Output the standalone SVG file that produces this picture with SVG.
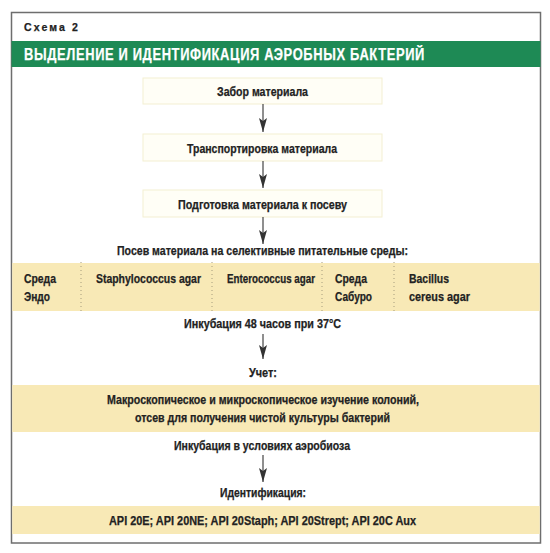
<svg xmlns="http://www.w3.org/2000/svg" width="550" height="553" viewBox="0 0 550 553">
<defs>
<marker id="ah" viewBox="0 0 14 8" refX="14" refY="4" markerWidth="14" markerHeight="8" markerUnits="userSpaceOnUse" orient="auto">
<path d="M0,0 L14,4 L0,8 L3,4 Z" fill="#333"/>
</marker>
</defs>
<style>
.t{font-family:"Liberation Sans",Arial,sans-serif;font-weight:bold;font-size:12.5px;fill:#222;stroke:#222;stroke-width:0.25}
.c{text-anchor:middle}
.box{fill:#fffef6;stroke:#f3efd2;stroke-width:1}
.band{fill:#f8e9b6}
.sep{stroke:#a59c7c;stroke-width:1;stroke-dasharray:1 3}
.conn{stroke:#333;stroke-width:1.1;fill:none;marker-end:url(#ah)}
</style>
<rect x="0" y="0" width="550" height="553" fill="#ffffff"/>
<g id="frame">
<rect x="11.5" y="12.5" width="529" height="530.5" fill="#ffffff" stroke="#6e6e6e" stroke-width="1.5"/>
<text x="24" y="31" class="t" style="font-size:11px;letter-spacing:2.2px" textLength="56" lengthAdjust="spacingAndGlyphs">Схема 2</text>
<rect x="11.5" y="41" width="529" height="26" fill="#1e8a55"/>
<text x="24" y="59.5" class="t" style="font-size:16px;fill:#ffffff;stroke:#ffffff;letter-spacing:0.8px" textLength="401" lengthAdjust="spacingAndGlyphs">ВЫДЕЛЕНИЕ И ИДЕНТИФИКАЦИЯ АЭРОБНЫХ БАКТЕРИЙ</text>
</g>
<g id="n1">
<rect class="box" x="143" y="78" width="239" height="26"/>
<text x="262.5" y="96" class="t c" textLength="91" lengthAdjust="spacingAndGlyphs">Забор материала</text>
</g>
<g id="n2">
<rect class="box" x="143" y="134" width="239" height="27"/>
<text x="262" y="152.5" class="t c" textLength="150" lengthAdjust="spacingAndGlyphs">Транспортировка материала</text>
</g>
<g id="n3">
<rect class="box" x="143" y="190" width="239" height="27"/>
<text x="262.5" y="208.5" class="t c" textLength="169" lengthAdjust="spacingAndGlyphs">Подготовка материала к посеву</text>
</g>
<g id="n4">
<text x="262.5" y="255" class="t c" textLength="291" lengthAdjust="spacingAndGlyphs">Посев материала на селективные питательные среды:</text>
</g>
<g id="n5">
<rect class="band" x="12.25" y="263" width="527.5" height="48"/>
<line class="sep" x1="81" y1="262" x2="81" y2="313"/>
<line class="sep" x1="212" y1="262" x2="212" y2="313"/>
<line class="sep" x1="322" y1="262" x2="322" y2="313"/>
<line class="sep" x1="394" y1="262" x2="394" y2="313"/>
<text x="24" y="283" class="t" textLength="32" lengthAdjust="spacingAndGlyphs">Среда</text>
<text x="24" y="301" class="t" textLength="26" lengthAdjust="spacingAndGlyphs">Эндо</text>
<text x="96" y="283" class="t" textLength="105" lengthAdjust="spacingAndGlyphs">Staphylococcus agar</text>
<text x="227" y="283" class="t" style="font-size:12.2px" textLength="88" lengthAdjust="spacingAndGlyphs">Enterococcus agar</text>
<text x="335" y="283" class="t" textLength="32" lengthAdjust="spacingAndGlyphs">Среда</text>
<text x="335" y="301" class="t" textLength="37" lengthAdjust="spacingAndGlyphs">Сабуро</text>
<text x="409" y="283" class="t" textLength="40" lengthAdjust="spacingAndGlyphs">Bacillus</text>
<text x="409" y="301" class="t" textLength="61" lengthAdjust="spacingAndGlyphs">cereus agar</text>
</g>
<g id="n6">
<text x="262.5" y="328" class="t c" textLength="157" lengthAdjust="spacingAndGlyphs">Инкубация 48 часов при 37°С</text>
</g>
<g id="n7">
<text x="263" y="377" class="t c" textLength="28" lengthAdjust="spacingAndGlyphs">Учет:</text>
</g>
<g id="n8">
<rect class="band" x="12.25" y="385" width="527.5" height="47"/>
<text x="263" y="404" class="t c" textLength="312" lengthAdjust="spacingAndGlyphs">Макроскопическое и микроскопическое изучение колоний,</text>
<text x="262.5" y="422" class="t c" textLength="255" lengthAdjust="spacingAndGlyphs">отсев для получения чистой культуры бактерий</text>
</g>
<g id="n9">
<text x="262" y="450" class="t c" textLength="176" lengthAdjust="spacingAndGlyphs">Инкубация в условиях аэробиоза</text>
</g>
<g id="n10">
<text x="263" y="497" class="t c" textLength="86" lengthAdjust="spacingAndGlyphs">Идентификация:</text>
</g>
<g id="n11">
<rect class="band" x="12.25" y="506" width="527.5" height="28"/>
<text x="262.5" y="525" class="t c" textLength="307" lengthAdjust="spacingAndGlyphs">API 20E; API 20NE; API 20Staph; API 20Strept; API 20C Aux</text>
</g>
<g id="connectors">
<line class="conn" x1="263" y1="104" x2="263" y2="132"/>
<line class="conn" x1="263" y1="161" x2="263" y2="188"/>
<line class="conn" x1="263" y1="217" x2="263" y2="244"/>
<line class="conn" x1="263" y1="334" x2="263" y2="359"/>
<line class="conn" x1="263" y1="455" x2="263" y2="482"/>
</g>
</svg>
